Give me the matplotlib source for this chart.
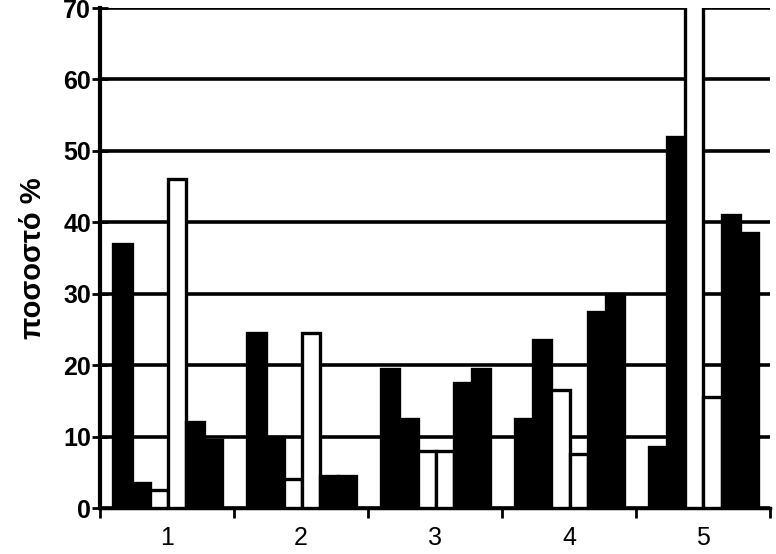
import numpy as np
import matplotlib
matplotlib.use("Agg")
import matplotlib.pyplot as plt

plt.rcParams['font.family'] = ['Liberation Sans', 'DejaVu Sans']

# data (percent)
groups = ['1', '2', '3', '4', '5']
s1 = [37.0, 24.5, 19.5, 12.5, 8.5]
s2 = [3.5, 10.0, 12.5, 23.5, 52.0]
s3 = [2.5, 4.0, 8.0, 16.5, 72.0]
s4 = [46.0, 24.5, 8.0, 7.5, 15.5]
s5 = [12.0, 4.5, 17.5, 27.5, 41.0]
s6 = [9.5, 4.5, 19.5, 30.0, 38.5]

series = [s1, s2, s3, s4, s5, s6]
fills = ['black', 'black', 'white', 'white', 'black', 'black']

fig = plt.figure(figsize=(7.76, 5.54), dpi=100)
ax = fig.add_axes([0.129, 0.083, 0.863, 0.9025])

x = np.arange(1, len(groups) + 1)
w = 0.135
for i, (vals, fc) in enumerate(zip(series, fills)):
	off = (i - 2.5) * w + 0.005
	ax.bar(x + off, vals, width=w, color=fc, edgecolor='black',
		linewidth=2.4, zorder=3)

ax.set_xlim(0.5, 5.5)
ax.set_ylim(0, 70)

ax.set_yticks(np.arange(0, 71, 10))
ax.yaxis.grid(True, color='black', linewidth=2.6, zorder=1)
ax.set_axisbelow(True)

# category boundaries get the tick marks, labels sit in the middle
ax.set_xticks(np.arange(0.5, 6.0, 1.0))
ax.set_xticklabels([])
ax.set_xticks(x, minor=True)
ax.set_xticklabels(groups, minor=True, fontsize=18)
ax.tick_params(axis='x', which='minor', length=0, pad=13)
ax.tick_params(axis='x', which='major', direction='out', length=7,
	width=2, color='black')
ax.tick_params(axis='y', direction='inout', length=11, width=2,
	labelsize=18, pad=1)
for lab in ax.get_yticklabels():
	lab.set_fontweight('bold')

for side in ['top', 'right']:
	ax.spines[side].set_visible(False)
ax.spines['left'].set_linewidth(3)
ax.spines['bottom'].set_linewidth(2.5)

ax.set_ylabel('ποσοστό %', fontsize=21, fontweight='bold', labelpad=12)

fig.savefig('out.png', dpi=100)
